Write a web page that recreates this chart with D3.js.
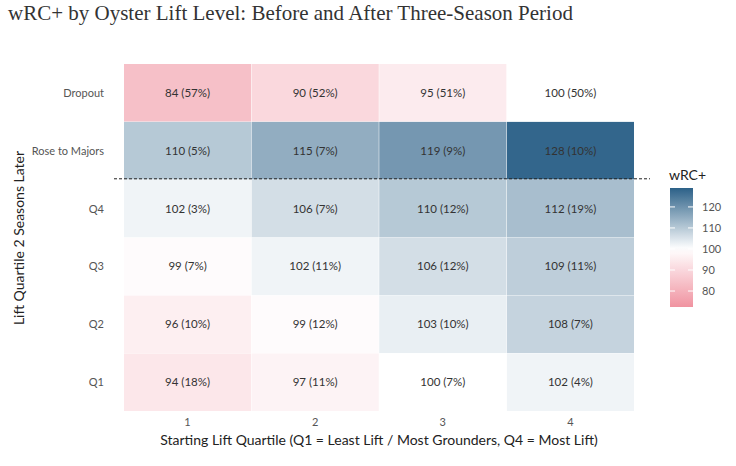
<!DOCTYPE html>
<html><head><meta charset="utf-8">
<script src="https://cdn.jsdelivr.net/npm/d3@7"></script>
<style>body{margin:0;background:#fff;font-family:Lato,sans-serif}</style>
</head><body><div id="chart"></div>
<script>
const rows = ['Dropout', 'Rose to Majors', 'Q4', 'Q3', 'Q2', 'Q1'];
const cols = ['1', '2', '3', '4'];
const wrc = [
  [84, 90, 95, 100],
  [110, 115, 119, 128],
  [102, 106, 110, 112],
  [99, 102, 106, 109],
  [96, 99, 103, 108],
  [94, 97, 100, 102]
];
const pct = [
  [57, 52, 51, 50],
  [5, 7, 9, 10],
  [3, 7, 12, 19],
  [7, 11, 12, 11],
  [10, 12, 10, 7],
  [18, 11, 7, 4]
];
const legendTicks = [80, 90, 100, 110, 120];

const W = 736, H = 466;
const svg = d3.select('#chart').append('svg').attr('width', W).attr('height', H);

const x = d3.scaleBand().domain(cols).range([124, 634]).paddingInner(0.004);
const y = d3.scaleBand().domain(rows).range([64, 411]).paddingInner(0.006);
const color = d3.scaleLinear().domain([72, 100, 129])
  .range(['#f0919f', '#ffffff', '#2c6188']).interpolate(d3.interpolateRgb);

svg.append('text').attr('x', 8).attr('y', 20)
  .attr('font-family', 'Liberation Serif, serif').attr('font-size', 21)
  .attr('fill', '#333').text('wRC+ by Oyster Lift Level: Before and After Three-Season Period');

const cells = [];
rows.forEach((r, i) => cols.forEach((c, j) => cells.push({ r, c, v: wrc[i][j], p: pct[i][j] })));

svg.append('g').selectAll('rect').data(cells).enter().append('rect')
  .attr('x', d => x(d.c)).attr('y', d => y(d.r))
  .attr('width', x.bandwidth()).attr('height', y.bandwidth())
  .attr('fill', d => color(d.v));

svg.append('g').selectAll('text').data(cells).enter().append('text')
  .attr('x', d => x(d.c) + x.bandwidth() / 2).attr('y', d => y(d.r) + y.bandwidth() / 2 + 4)
  .attr('text-anchor', 'middle').attr('font-size', 11.5).attr('fill', '#333')
  .text(d => `${d.v} (${d.p}%)`);

// divider between outcomes and quartiles
svg.append('line').attr('x1', 114).attr('x2', 650)
  .attr('y1', y('Q4') - 1).attr('y2', y('Q4') - 1)
  .attr('stroke', '#222').attr('stroke-dasharray', '3,2').attr('stroke-width', 1);

svg.append('g').selectAll('text').data(rows).enter().append('text')
  .attr('x', 104).attr('y', d => y(d) + y.bandwidth() / 2 + 4)
  .attr('text-anchor', 'end').attr('font-size', 11).attr('fill', '#555').text(d => d);

svg.append('g').selectAll('text').data(cols).enter().append('text')
  .attr('x', d => x(d) + x.bandwidth() / 2).attr('y', 426)
  .attr('text-anchor', 'middle').attr('font-size', 11).attr('fill', '#555').text(d => d);

svg.append('text').attr('x', 379).attr('y', 445).attr('text-anchor', 'middle')
  .attr('font-size', 14).attr('fill', '#222')
  .text('Starting Lift Quartile (Q1 = Least Lift / Most Grounders, Q4 = Most Lift)');

svg.append('text').attr('transform', 'translate(24,238) rotate(-90)').attr('text-anchor', 'middle')
  .attr('font-size', 14).attr('fill', '#222').text('Lift Quartile 2 Seasons Later');

// legend
const ly = d3.scaleLinear().domain([72.4, 129]).range([307, 188]);
const grad = svg.append('defs').append('linearGradient').attr('id', 'g')
  .attr('x1', 0).attr('y1', 1).attr('x2', 0).attr('y2', 0);
d3.range(0, 1.0001, 0.05).forEach(t => {
  const v = 72.4 + t * (129 - 72.4);
  grad.append('stop').attr('offset', t).attr('stop-color', color(v));
});
svg.append('rect').attr('x', 670).attr('y', 188).attr('width', 23).attr('height', 119).attr('fill', 'url(#g)');
svg.append('text').attr('x', 669).attr('y', 180).attr('font-size', 14).attr('fill', '#222').text('wRC+');
const lt = svg.append('g').selectAll('g').data(legendTicks).enter().append('g');
lt.append('line').attr('x1', 670).attr('x2', 675).attr('y1', d => ly(d)).attr('y2', d => ly(d)).attr('stroke', '#fff');
lt.append('line').attr('x1', 688).attr('x2', 693).attr('y1', d => ly(d)).attr('y2', d => ly(d)).attr('stroke', '#fff');
lt.append('text').attr('x', 702).attr('y', d => ly(d) + 4).attr('font-size', 11).attr('fill', '#555').text(d => d);
</script></body></html>
